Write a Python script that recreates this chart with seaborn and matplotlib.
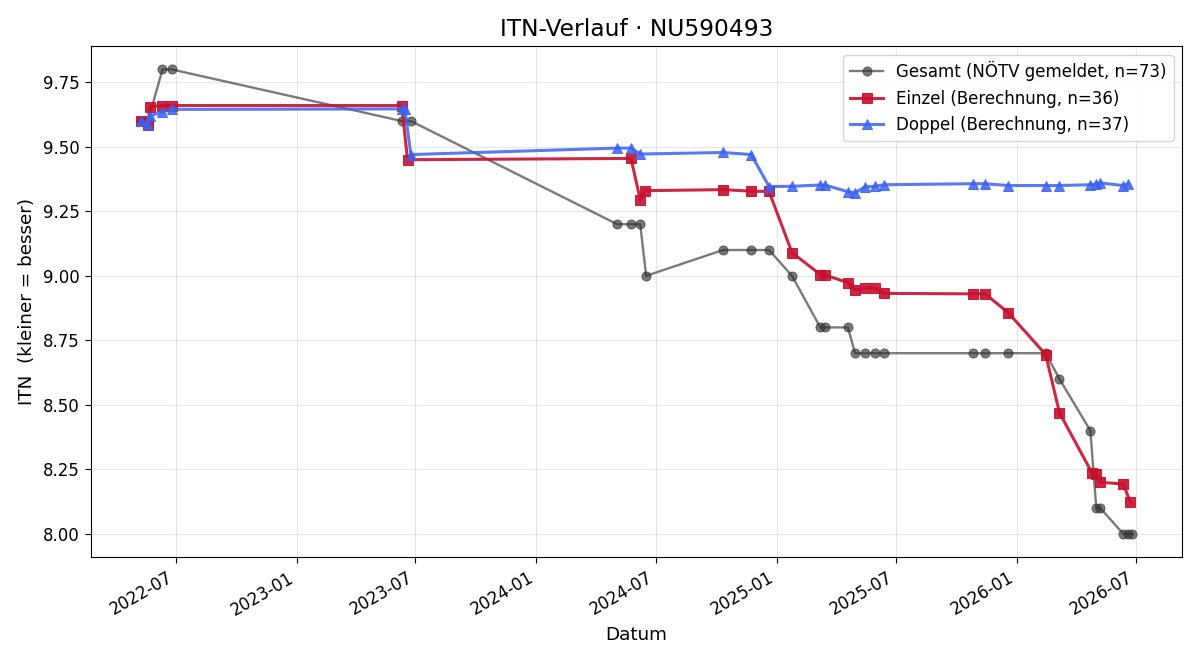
import pandas as pd
import matplotlib
matplotlib.use("Agg")
import matplotlib.pyplot as plt
import matplotlib.dates as mdates
import seaborn as sns

# ----------------------------
# Data
# ----------------------------
gesamt_dates = ["2022-05-09", "2022-05-20", "2022-06-11", "2022-06-25", "2023-06-10",
                "2023-06-24", "2024-05-03", "2024-05-24", "2024-06-07", "2024-06-16",
                "2024-10-11", "2024-11-23", "2024-12-20", "2025-01-24", "2025-03-08",
                "2025-03-15", "2025-04-19", "2025-04-30", "2025-05-15", "2025-05-30",
                "2025-06-13", "2025-10-26", "2025-11-14", "2025-12-19", "2026-02-14",
                "2026-03-07", "2026-04-23", "2026-05-02", "2026-05-08", "2026-06-12",
                "2026-06-20", "2026-06-26"]
gesamt_itn = [9.60, 9.60, 9.80, 9.80, 9.60, 9.60, 9.20, 9.20, 9.20, 9.00,
              9.10, 9.10, 9.10, 9.00, 8.80, 8.80, 8.80, 8.70, 8.70, 8.70,
              8.70, 8.70, 8.70, 8.70, 8.70, 8.60, 8.40, 8.10, 8.10, 8.00,
              8.00, 8.00]

einzel_dates = ["2022-05-09", "2022-05-20", "2022-05-23", "2022-06-11", "2022-06-25",
                "2023-06-10", "2023-06-19", "2024-05-24", "2024-06-07", "2024-06-14",
                "2024-10-11", "2024-11-23", "2024-12-20", "2025-01-24", "2025-03-08",
                "2025-03-15", "2025-04-19", "2025-04-30", "2025-05-15", "2025-05-30",
                "2025-06-13", "2025-10-26", "2025-11-14", "2025-12-19", "2026-02-14",
                "2026-03-07", "2026-04-26", "2026-05-02", "2026-05-08", "2026-06-12",
                "2026-06-23"]
einzel_itn = [9.600, 9.585, 9.655, 9.660, 9.660, 9.660, 9.450, 9.455, 9.295, 9.330,
              9.334, 9.328, 9.327, 9.090, 9.005, 9.003, 8.974, 8.945, 8.953, 8.952,
              8.932, 8.930, 8.930, 8.857, 8.695, 8.469, 8.234, 8.233, 8.200, 8.193,
              8.122]

doppel_dates = ["2022-05-09", "2022-05-20", "2022-05-23", "2022-06-11", "2022-06-25",
                "2023-06-10", "2023-06-15", "2023-06-24", "2024-05-03", "2024-05-24",
                "2024-06-07", "2024-10-11", "2024-11-23", "2024-12-20", "2025-01-24",
                "2025-03-08", "2025-03-15", "2025-04-19", "2025-04-30", "2025-05-15",
                "2025-05-30", "2025-06-13", "2025-10-26", "2025-11-14", "2025-12-19",
                "2026-02-14", "2026-03-07", "2026-04-23", "2026-05-02", "2026-05-08",
                "2026-06-12", "2026-06-20"]
doppel_itn = [9.600, 9.585, 9.620, 9.635, 9.645, 9.647, 9.645, 9.470, 9.495, 9.495,
              9.472, 9.478, 9.470, 9.346, 9.347, 9.352, 9.352, 9.326, 9.322, 9.345,
              9.347, 9.353, 9.357, 9.357, 9.350, 9.350, 9.350, 9.353, 9.357, 9.360,
              9.350, 9.357]

# ----------------------------
# Plot
# ----------------------------
fig, ax = plt.subplots(figsize=(12, 6.6), dpi=100)

sns.lineplot(x=pd.to_datetime(gesamt_dates), y=gesamt_itn, ax=ax,
             estimator=None, sort=False, color="#333333", alpha=0.65,
             linewidth=1.7, marker="o", markersize=6.5, markeredgecolor="#333333",
             label="Gesamt (NÖTV gemeldet, n=73)")
sns.lineplot(x=pd.to_datetime(einzel_dates), y=einzel_itn, ax=ax,
             estimator=None, sort=False, color="#c8102e", alpha=0.9,
             linewidth=2.2, marker="s", markersize=7.2, markeredgecolor="#c8102e",
             label="Einzel (Berechnung, n=36)")
sns.lineplot(x=pd.to_datetime(doppel_dates), y=doppel_itn, ax=ax,
             estimator=None, sort=False, color="#3b63f2", alpha=0.85,
             linewidth=2.2, marker="^", markersize=7.2, markeredgecolor="#3b63f2",
             label="Doppel (Berechnung, n=37)")

ax.set_title("ITN-Verlauf · NU590493", fontsize=16.8, pad=7.2)
ax.set_xlabel("Datum", fontsize=13.2, labelpad=4.8)
ax.set_ylabel("ITN  (kleiner = besser)", fontsize=13.2, labelpad=4.8)
ax.tick_params(labelsize=12, length=4.2, pad=4.2)
ax.grid(True, alpha=0.3)
ax.xaxis.set_major_formatter(mdates.DateFormatter("%Y-%m"))
ax.legend(loc="upper right", fontsize=12)
fig.autofmt_xdate()

fig.subplots_adjust(left=0.076, right=0.985, top=0.930, bottom=0.156)
plt.savefig("out.png")
